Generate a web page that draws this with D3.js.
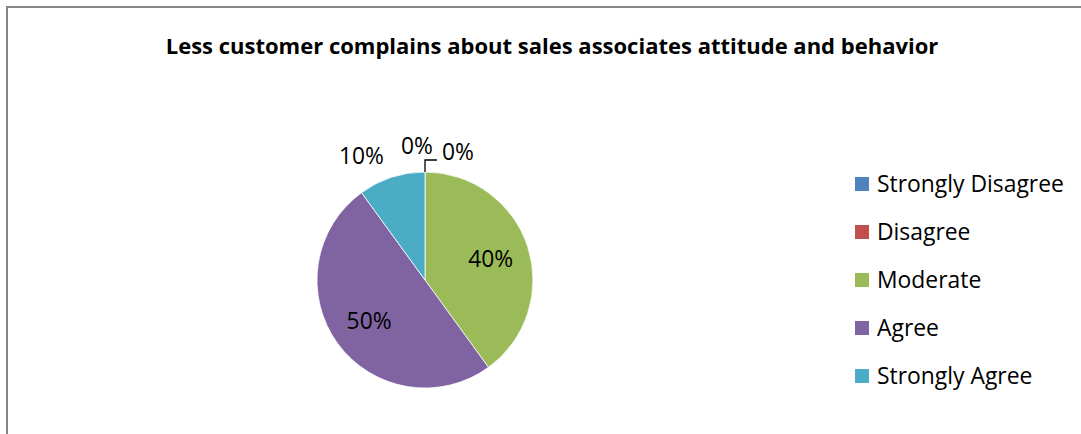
<!DOCTYPE html>
<html><head><meta charset="utf-8">
<script src="https://cdn.jsdelivr.net/npm/d3@7"></script>
<style>body{margin:0;background:#fff}svg{display:block}text{font-family:"Open Sans",sans-serif}</style>
</head><body>
<svg id="c" width="1081" height="434"></svg>
<script>
const categories = ["Strongly Disagree","Disagree","Moderate","Agree","Strongly Agree"];
const values = [0, 0, 40, 50, 10];
const colors = ["#4F81BD","#C0504D","#9BBB59","#8064A2","#4BACC6"];
const title = "Less customer complains about sales associates attitude and behavior";

const svg = d3.select("#c");
svg.append("rect").attr("x",7).attr("y",7).attr("width",1090).attr("height",440)
  .attr("fill","#fff").attr("stroke","#868686").attr("stroke-width",2);

// fit helper: set font size so text width matches target
function fit(sel, target){
  const n = sel.node();
  const fs = +sel.attr("font-size");
  const w = n.getComputedTextLength();
  const nf = fs*target/w;
  sel.attr("font-size", nf);
  return nf;
}
const CAP = 0.714;

const t = svg.append("text").attr("x",552).attr("text-anchor","middle")
  .attr("font-weight","bold").attr("font-size",20).text(title);
const tfs = fit(t, 773);
t.attr("y", 46.5 + tfs*CAP/2);

const cx=425, cy=280, R=108;
const g = svg.append("g").attr("transform",`translate(${cx},${cy})`);
const pie = d3.pie().sort(null).value(d=>d);
const arcs = pie(values);
const arc = d3.arc().innerRadius(0).outerRadius(R);
g.selectAll("path").data(arcs).join("path")
  .attr("d",arc).attr("fill",(d,i)=>colors[i])
  .attr("stroke","#fff").attr("stroke-width",0.8);

const total = d3.sum(values);
const fmt = v => Math.round(v/total*100)+"%";
// label size
const probe = svg.append("text").attr("font-size",20).text("40%");
const lfs = fit(probe, 45); probe.remove();

const inArc = d3.arc().innerRadius(R*0.64).outerRadius(R*0.64);
// manual positions for outside labels (relative to centre; cap-centre)
const outside = {0:{x:-8,y:-134,a:"middle"}, 1:{x:17,y:-128,a:"start"}, 4:{x:-63.5,y:-124.5,a:"middle"}};
arcs.forEach((a,i)=>{
  let x,y,anchor="middle";
  if (outside[i]) { x=outside[i].x; y=outside[i].y; anchor=outside[i].a; }
  else { [x,y] = inArc.centroid(a); }
  g.append("text").attr("x",x).attr("y",y + lfs*CAP/2).attr("text-anchor",anchor)
    .attr("font-size",lfs).attr("fill","#000").text(fmt(values[i]));
});
// leader line for second 0%
g.append("path").attr("d",`M0,${-R} L0,${-R-12} L12,${-R-12}`)
  .attr("fill","none").attr("stroke","#000").attr("stroke-width",1.3);

const lg = svg.append("g");
const p2 = svg.append("text").attr("font-size",20).text(categories[0]);
const gfs = fit(p2, 187); p2.remove();
categories.forEach((c,i)=>{
  const y = 184 + i*48;
  lg.append("rect").attr("x",855).attr("y",y-7).attr("width",14).attr("height",14).attr("fill",colors[i]);
  lg.append("text").attr("x",877).attr("y",y + gfs*CAP/2)
    .attr("font-size",gfs).text(c);
});
</script>
</body></html>
